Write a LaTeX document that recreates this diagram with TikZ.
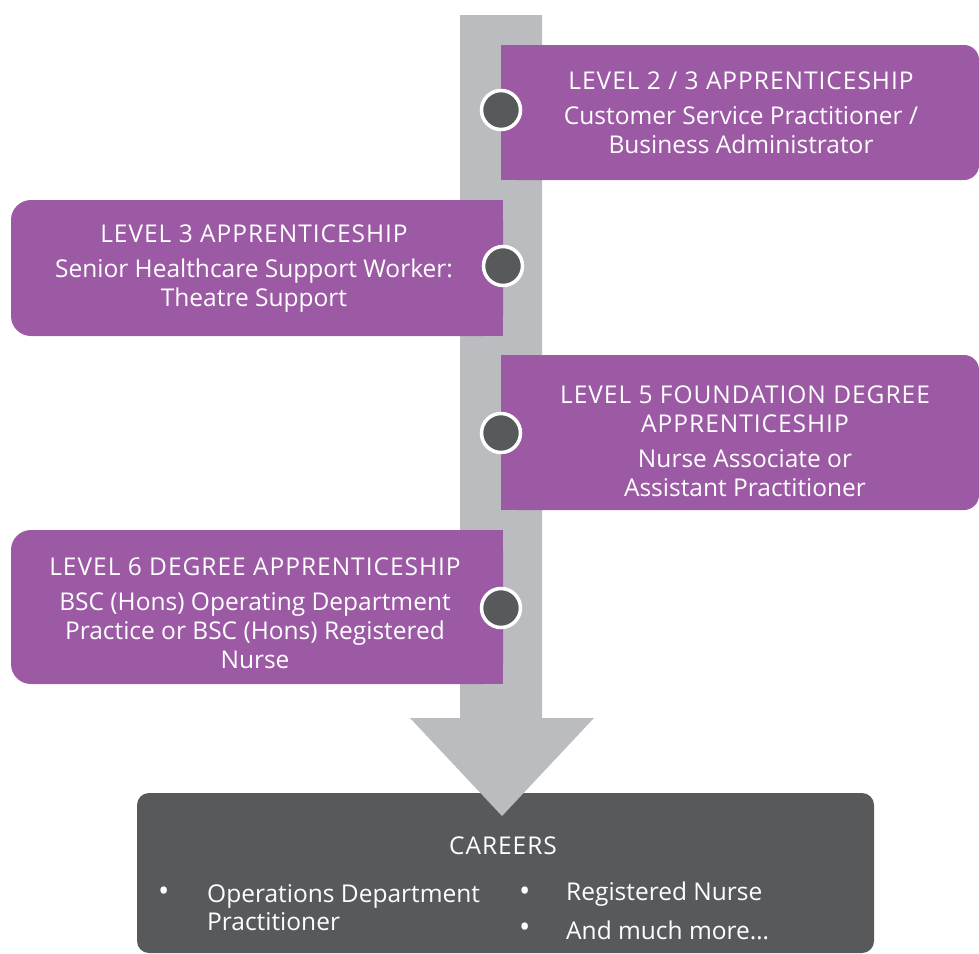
\documentclass[tikz,border=0pt]{standalone}
\usepackage{fontspec}
\setmainfont{Open Sans}
\newfontfamily\headfont[LetterSpace=4]{Open Sans}
\usetikzlibrary{positioning}
\definecolor{lvlpurple}{HTML}{9C5AA5}
\definecolor{shaftgray}{HTML}{BBBCBF}
\definecolor{careergray}{HTML}{58595B}
\newcommand{\lvlhead}[1]{{\headfont #1}}
\newcommand{\bul}{{\fontsize{30}{28}\selectfont\textbullet}}
\tikzset{
  lvltext/.style={text=white, align=center, inner sep=0pt,
                  font=\fontsize{24.5}{29}\selectfont},
  careertext/.style={text=white, inner sep=0pt, anchor=west,
                     font=\fontsize{24.5}{28}\selectfont},
  dot/.style={circle, fill=careergray, draw=white, line width=3.5pt,
              minimum size=39pt, inner sep=0pt}
}

\begin{document}
\begin{tikzpicture}[x=1pt,y=-1pt]
\useasboundingbox (0,0) rectangle (979,953);

% careers box sits under the arrow tip
\fill[careergray, rounded corners=12pt] (137,793) rectangle (874,953);

% timeline arrow
\fill[shaftgray] (460,15) -- (542,15) -- (542,718) -- (594,718)
                 -- (502,816) -- (410,718) -- (460,718) -- cycle;

% level boxes
\fill[lvlpurple, rounded corners=15pt] (501,45) rectangle (979,180);
\fill[lvlpurple] (501,45) rectangle (530,180);
\fill[lvlpurple, rounded corners=20pt] (11,200) rectangle (503,336);
\fill[lvlpurple] (480,200) rectangle (503,336);
\fill[lvlpurple, rounded corners=15pt] (501,355) rectangle (979,510);
\fill[lvlpurple] (501,355) rectangle (530,510);
\fill[lvlpurple, rounded corners=20pt] (11,530) rectangle (503,684);
\fill[lvlpurple] (480,530) rectangle (503,684);

\node[lvltext] (lvl23) at (741,113)
  {\lvlhead{LEVEL 2 / 3 APPRENTICESHIP}\\[6pt]
   Customer Service Practitioner /\\ Business Administrator};
\node[lvltext] (lvl3) at (254,269)
  {\lvlhead{LEVEL 3 APPRENTICESHIP}\\[6pt]
   Senior Healthcare Support Worker:\\ Theatre Support};
\node[lvltext] (lvl5) at (745,441)
  {\lvlhead{LEVEL 5 FOUNDATION DEGREE}\\ \lvlhead{APPRENTICESHIP}\\[6pt]
   Nurse Associate or\\ Assistant Practitioner};
\node[lvltext] (lvl6) at (255,613)
  {\lvlhead{LEVEL 6 DEGREE APPRENTICESHIP}\\[6pt]
   BSC (Hons) Operating Department\\ Practice or BSC (Hons) Registered\\ Nurse};

% milestones on the timeline
\node[dot] (m23) at (501,110) {};
\node[dot] (m3)  at (503,266) {};
\node[dot] (m5)  at (501,433) {};
\node[dot] (m6)  at (501,608) {};

% careers
\node[lvltext] (careers) at (503,846) {\lvlhead{CAREERS}};
\node[careertext] (b1) at (158,894) {\bul};
\node[careertext] (c1) at (207,908) [align=left] {Operations Department\\ Practitioner};
\node[careertext] (b2) at (519,894) {\bul};
\node[careertext] (c2) at (566,894) {Registered Nurse};
\node[careertext] (b3) at (519,930) {\bul};
\node[careertext] (c3) at (566,930) {And much more\dots};
\end{tikzpicture}
\end{document}
